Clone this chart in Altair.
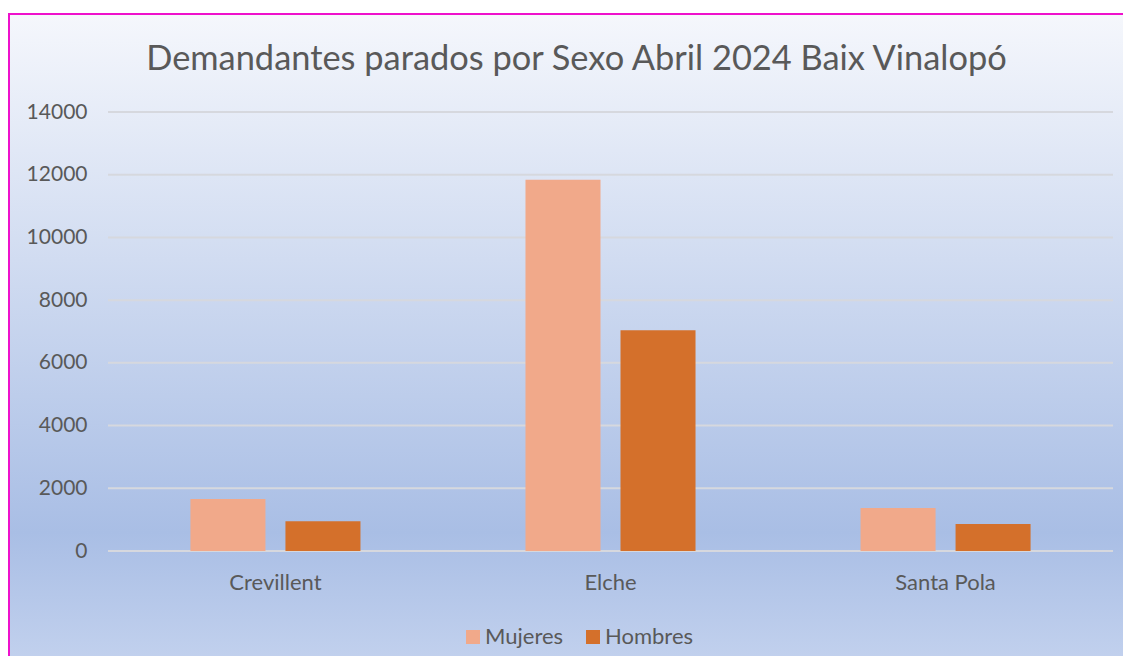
import altair as alt
import pandas as pd

categories = ["Crevillent", "Elche", "Santa Pola"]
mujeres = [1660, 11840, 1370]
hombres = [950, 7040, 860]
series = ["Mujeres", "Hombres"]
series_colors = ["#f1a98a", "#d4702b"]
y_ticks = [0, 2000, 4000, 6000, 8000, 10000, 12000, 14000]
title_text = "Demandantes parados por Sexo Abril 2024 Baix Vinalopó"

rows = []
for c, m, h in zip(categories, mujeres, hombres):
    rows.append({"cat": c, "sexo": "Mujeres", "val": m})
    rows.append({"cat": c, "sexo": "Hombres", "val": h})
df = pd.DataFrame(rows)
grid_df = pd.DataFrame({"val": y_ticks})
bg_df = pd.DataFrame({"k": [0]})

FONT = "Lato"
TXT = "#595959"

y_axis = alt.Axis(values=y_ticks, grid=False, domain=False, ticks=False, title=None,
                  format="d", labelFontSize=21, labelColor=TXT, labelPadding=21,
                  labelFont=FONT, zindex=2)
y_scale = alt.Scale(domain=[0, 14000], nice=False)

bg = alt.Chart(bg_df).mark_rect(
    fill=alt.Gradient(
        gradient="linear", x1=0, y1=0, x2=0, y2=1,
        stops=[
            alt.GradientStop(offset=0, color="#f5f7fc"),
            alt.GradientStop(offset=0.776, color="#a9bee5"),
            alt.GradientStop(offset=1, color="#c6d4ef"),
        ],
    ),
    stroke="#ee11cc",
    strokeWidth=2,
).encode(
    x=alt.value(-99), x2=alt.value(1040),
    y=alt.value(-98), y2=alt.value(570),
)

grid = alt.Chart(grid_df).mark_rule(color="#d6d8de", strokeWidth=2).encode(
    y=alt.Y("val:Q", scale=y_scale, axis=y_axis)
)

bars = alt.Chart(df).mark_bar().encode(
    x=alt.X("cat:N", sort=categories,
            scale=alt.Scale(paddingInner=0.4925, paddingOuter=0.246),
            axis=alt.Axis(title=None, labelAngle=0, ticks=False, domain=False,
                          labelFontSize=22, labelColor=TXT, labelPadding=21, labelFont=FONT,
                          zindex=2)),
    xOffset=alt.XOffset("sexo:N", sort=series,
                        scale=alt.Scale(paddingInner=0.2105, paddingOuter=0)),
    y=alt.Y("val:Q", scale=y_scale, axis=y_axis),
    color=alt.Color("sexo:N", sort=series,
                    scale=alt.Scale(domain=series, range=series_colors),
                    legend=alt.Legend(title=None, orient="none", direction="horizontal",
                                      legendX=354, legendY=514, padding=0,
                                      symbolType="square", symbolSize=196,
                                      symbolStrokeWidth=0, labelFontSize=22,
                                      labelColor=TXT, labelFont=FONT, labelOffset=1,
                                      columnPadding=18)),
)

chart = alt.layer(bg, grid, bars).properties(
    width=1005, height=439,
    padding={"left": 100, "top": 104, "right": 10, "bottom": 105},
    autosize=alt.AutoSizeParams(type="none"),
    title=alt.TitleParams(title_text, fontSize=34.4, font=FONT, color=TXT, fontWeight="normal",
                          anchor="middle", dx=-34, baseline="alphabetic", offset=-91),
).configure_view(stroke=None).configure(background="white")

chart.save("out.html", embed_options={"renderer": "svg", "actions": False})
